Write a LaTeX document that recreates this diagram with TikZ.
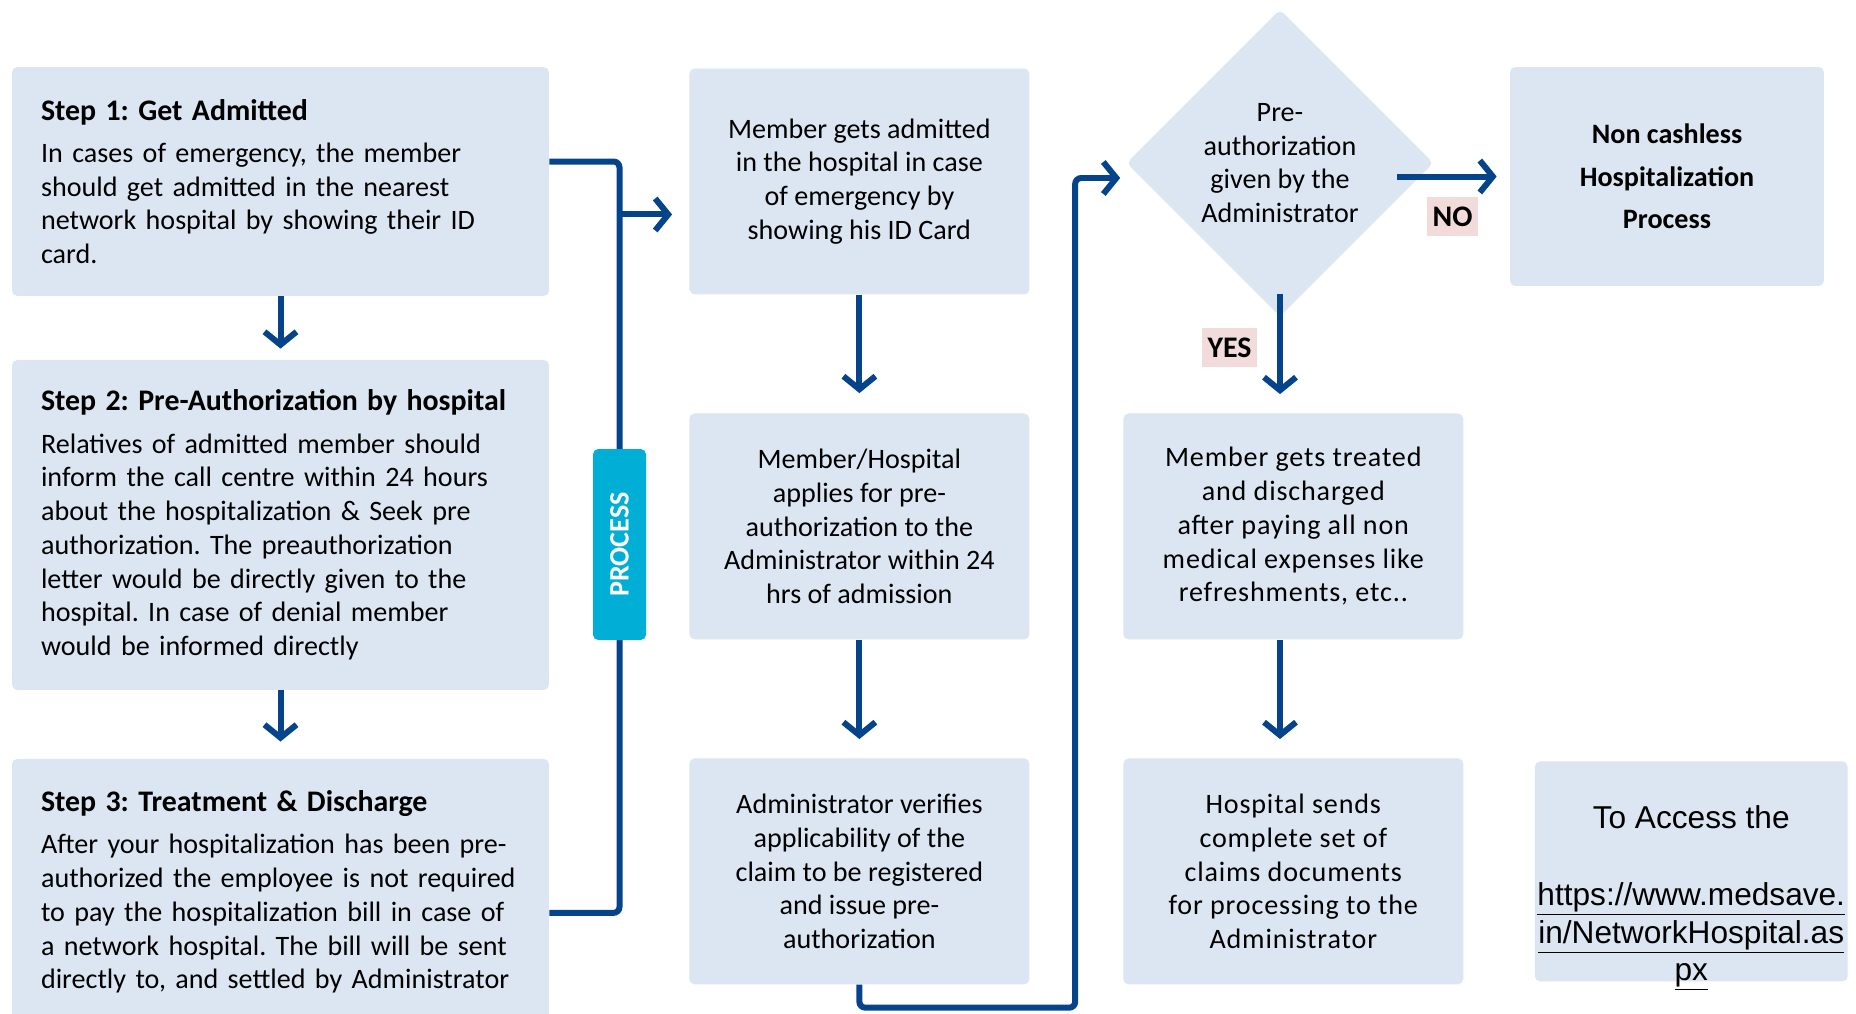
\documentclass[tikz,border=0pt]{standalone}
\usepackage{fontspec}
\setmainfont{Carlito}
\newfontfamily\arialfont{Liberation Sans}
\newfontfamily\widefont[LetterSpace=3]{Carlito}
\usepackage{tikz}
\usepackage{xcolor}
\usetikzlibrary{arrows.meta, shapes.geometric, positioning, backgrounds}
\definecolor{BoxBlue}{HTML}{DCE6F2}
\definecolor{FlowBlue}{HTML}{05448A}
\definecolor{ProcCyan}{HTML}{00AED6}
\definecolor{TagPink}{HTML}{F2DCDB}
\newcommand{\steptitle}[1]{{\bfseries\fontsize{17}{20}\selectfont #1}}
\frenchspacing

\begin{document}
\begin{tikzpicture}[x=0.02cm, y=-0.02cm, on grid,
        box/.style={rectangle, rounded corners=3pt, fill=BoxBlue, inner sep=0pt, align=center, font=\fontsize{16}{19.2}\selectfont},
        stepbox/.style={box, align=left, text width=9.58cm, minimum width=10.74cm},
        flowbox/.style={box, minimum width=6.8cm, minimum height=4.52cm},
        decision/.style={diamond, aspect=1, fill=BoxBlue, rounded corners=3pt, inner sep=0pt, minimum width=6.14cm, minimum height=6.14cm, align=center, font=\fontsize{16}{19.2}\selectfont},
        procbox/.style={rectangle, rounded corners=3pt, fill=ProcCyan, rotate=90, minimum width=3.82cm, minimum height=1.06cm, text=white, font=\bfseries\fontsize{16}{19}\selectfont},
        tag/.style={fill=TagPink, inner xsep=3pt, minimum height=0.78cm, font=\bfseries\fontsize{17}{20}\selectfont},
        flow/.style={draw=FlowBlue, line width=0.12cm, -{Straight Barb[length=0.26cm, width=0.64cm]}},
        bus/.style={draw=FlowBlue, line width=0.12cm, rounded corners=0.12cm}]

        \useasboundingbox (0,0) rectangle (1856,1014);

        \node[stepbox, minimum height=4.58cm] (s1) at (280.5,181.5) {\steptitle{Step 1: Get Admitted}\\[5pt]
            In cases of emergency, the member\\
            should get admitted in the nearest\\
            network hospital by showing their ID\\
            card.};

        \node[stepbox, minimum height=6.6cm, below=6.87cm of s1] (s2) {\steptitle{Step 2: Pre-Authorization by hospital}\\[5pt]
            Relatives of admitted member should\\
            inform the call centre within 24 hours\\
            about the hospitalization \& Seek pre\\
            authorization. The preauthorization\\
            letter would be directly given to the\\
            hospital. In case of denial member\\
            would be informed directly};

        \node[stepbox, minimum height=5.32cm, below=7.34cm of s2] (s3) {\steptitle{Step 3: Treatment \& Discharge}\\[5pt]
            After your hospitalization has been pre-\\
            authorized the employee is not required\\
            to pay the hospitalization bill in case of\\
            a network hospital. The bill will be sent\\
            directly to, and settled by Administrator};

        \node[procbox] (proc) at (619.5,544.5) {PROCESS};

        \node[flowbox, right=11.58cm of s1] (adm) {Member gets admitted\\
            in the hospital in case\\
            of emergency by\\
            showing his ID Card};

        \node[flowbox, below=6.9cm of adm] (app) {Member/Hospital\\
            applies for pre-\\
            authorization to the\\
            Administrator within 24\\
            hrs of admission};

        \node[flowbox, below=6.9cm of app] (ver) {Administrator verifies\\
            applicability of the\\
            claim to be registered\\
            and issue pre-\\
            authorization};

        \node[decision] (dia) at (1280,163) {Pre-\\
            authorization\\
            given by the\\
            Administrator};

        \node[flowbox, right=8.68cm of app, font=\widefont\fontsize{16}{19.2}\selectfont] (trt) {Member gets treated\\
            and discharged\\
            after paying all non\\
            medical expenses like\\
            refreshments, etc..};

        \node[flowbox, below=6.9cm of trt, font=\widefont\fontsize{16}{19.2}\selectfont] (snd) {Hospital sends\\
            complete set of\\
            claims documents\\
            for processing to the\\
            Administrator};

        \node[box, minimum width=6.28cm, minimum height=4.38cm, font=\bfseries\fontsize{16}{24.2}\selectfont] (nocash) at (1667,176.5) {Non cashless\\
            Hospitalization\\
            Process};

        \node[box, minimum width=6.26cm, minimum height=4.4cm, right=7.96cm of snd] (urlbox) {};
        \node[anchor=north, align=center, font=\arialfont\fontsize{18}{21.2}\selectfont] (urltext) at ([yshift=-0.76cm]urlbox.north) {To Access the\\[23pt]
            \underline{https://www.medsave.}\\
            \underline{in/NetworkHospital.as}\\
            \underline{px}};

        \node[tag] (no) at (1452.5,216.5) {NO};
        \node[tag] (yes) at (1229.5,347.5) {YES};

        \begin{scope}[on background layer]
            \fill[white] (0,0) rectangle (1856,1014);
            \draw[bus] ([yshift=0.4cm]s1.east) -| (proc.center) |- ([yshift=-0.42cm]s3.east);
        \end{scope}

        \draw[flow, shorten >=0.22cm] (s1) -- (s2);
        \draw[flow, shorten >=0.34cm] (s2) -- (s3);
        \draw[flow, shorten >=0.34cm] ([yshift=-0.66cm]adm.west -| proc) -- ([yshift=-0.66cm]adm.west);

        \draw[flow, shorten >=0.4cm] (adm) -- (app);
        \draw[flow, shorten >=0.38cm] (app) -- (ver);
        \draw[flow, rounded corners=0.12cm, shorten >=0.12cm] (ver.south) -- ++(0,23) -| ([xshift=-1.02cm, yshift=-0.3cm]dia.west) -- ([yshift=-0.3cm]dia.west);

        \draw[flow, shorten <=-0.74cm, shorten >=0.26cm] (nocash.west -| dia.east) -- (nocash.west);
        \draw[flow, shorten <=-0.46cm, shorten >=0.38cm] (dia.south) -- (trt.north -| dia);
        \draw[flow, shorten >=0.38cm] (trt.south -| dia) -- (snd.north -| dia);

    \end{tikzpicture}
\end{document}
